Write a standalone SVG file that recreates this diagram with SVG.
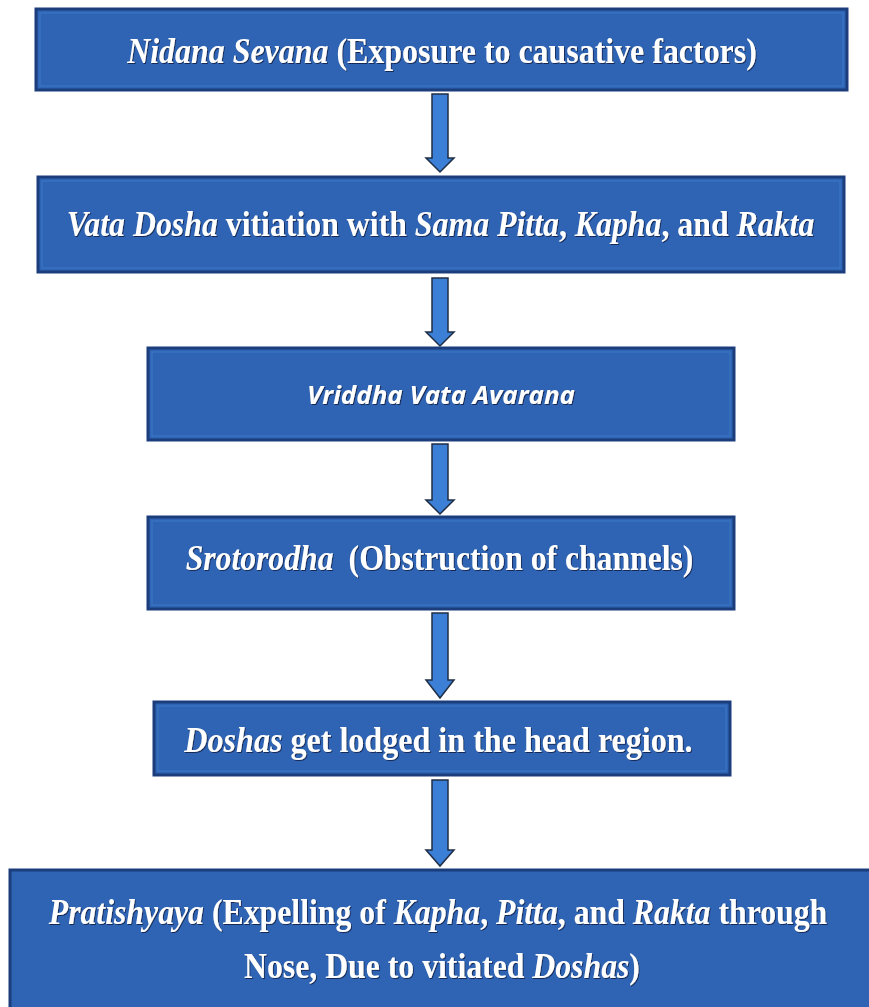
<svg xmlns="http://www.w3.org/2000/svg" width="869" height="1007" viewBox="0 0 869 1007">
<defs>
<style>
.box{fill:#2e64b3;stroke:#1b3d7c;stroke-width:3}
.inner{fill:none;stroke:#3a72c2;stroke-width:1.5}
.t{font-family:"Liberation Serif","Times New Roman",serif;font-weight:bold;font-size:35px;fill:#ffffff;text-anchor:middle;filter:url(#sh)}
.i{font-style:italic}
.s{font-family:"Open Sans","DejaVu Sans",sans-serif;font-weight:bold;font-style:italic;font-size:25px;fill:#ffffff;text-anchor:middle;filter:url(#sh)}
.arr{fill:#3b7fd6;stroke:#1f2e45;stroke-width:1.5;stroke-linejoin:miter}
</style>
<filter id="sh" x="-5%" y="-20%" width="110%" height="140%">
<feDropShadow dx="1" dy="1" stdDeviation="0.6" flood-color="#0c1f40" flood-opacity="0.8"/>
</filter>
</defs>
<rect width="869" height="1007" fill="#ffffff"/>
<g id="connectors">
<path class="arr" d="M432,94 H448 V158 H454 L440,172 L426,158 H432 Z"/>
<path class="arr" d="M432,278 H448 V332 H454 L440,346 L426,332 H432 Z"/>
<path class="arr" d="M432,444 H448 V500 H454 L440,514 L426,500 H432 Z"/>
<path class="arr" d="M432,613 H448 V680 H454 L440,698 L426,680 H432 Z"/>
<path class="arr" d="M432,780 H448 V850 H454 L440,866 L426,850 H432 Z"/>
</g>
<g id="node1">
<rect class="box" x="36" y="9" width="811" height="81"/>
<rect class="inner" x="40" y="13" width="803" height="73"/>
<g transform="translate(442,63) scale(0.912,1)">
<text class="t" x="0" y="0"><tspan class="i">Nidana Sevana</tspan> (Exposure to causative factors)</text>
</g>
</g>
<g id="node2">
<rect class="box" x="38" y="177" width="806" height="95"/>
<rect class="inner" x="42" y="181" width="798" height="87"/>
<g transform="translate(440.5,236) scale(0.909,1)">
<text class="t" x="0" y="0"><tspan class="i">Vata Dosha</tspan> vitiation with <tspan class="i">Sama Pitta</tspan>, <tspan class="i">Kapha</tspan>, and <tspan class="i">Rakta</tspan></text>
</g>
</g>
<g id="node3">
<rect class="box" x="148" y="348" width="586" height="92"/>
<rect class="inner" x="152" y="352" width="578" height="84"/>
<text class="s" x="441" y="404" textLength="268" lengthAdjust="spacingAndGlyphs">Vriddha Vata Avarana</text>
</g>
<g id="node4">
<rect class="box" x="148" y="517" width="586" height="92"/>
<rect class="inner" x="152" y="521" width="578" height="84"/>
<g transform="translate(439.5,570) scale(0.905,1)">
<text class="t" x="0" y="0"><tspan class="i">Srotorodha</tspan> <tspan dx="8">(Obstruction of channels)</tspan></text>
</g>
</g>
<g id="node5">
<rect class="box" x="154" y="702" width="576" height="73"/>
<rect class="inner" x="158" y="706" width="568" height="65"/>
<g transform="translate(438.5,752) scale(0.917,1)">
<text class="t" x="0" y="0"><tspan class="i">Doshas</tspan> get lodged in the head region.</text>
</g>
</g>
<g id="node6">
<rect class="box" x="10" y="870" width="862" height="140"/>
<g transform="translate(438,924) scale(0.908,1)">
<text class="t" x="0" y="0"><tspan class="i">Pratishyaya</tspan> (Expelling of <tspan class="i">Kapha</tspan>, <tspan class="i">Pitta</tspan>, and <tspan class="i">Rakta</tspan> through</text>
</g>
<g transform="translate(442,978) scale(0.907,1)">
<text class="t" x="0" y="0">Nose, Due to vitiated <tspan class="i">Doshas</tspan>)</text>
</g>
</g>
</svg>
